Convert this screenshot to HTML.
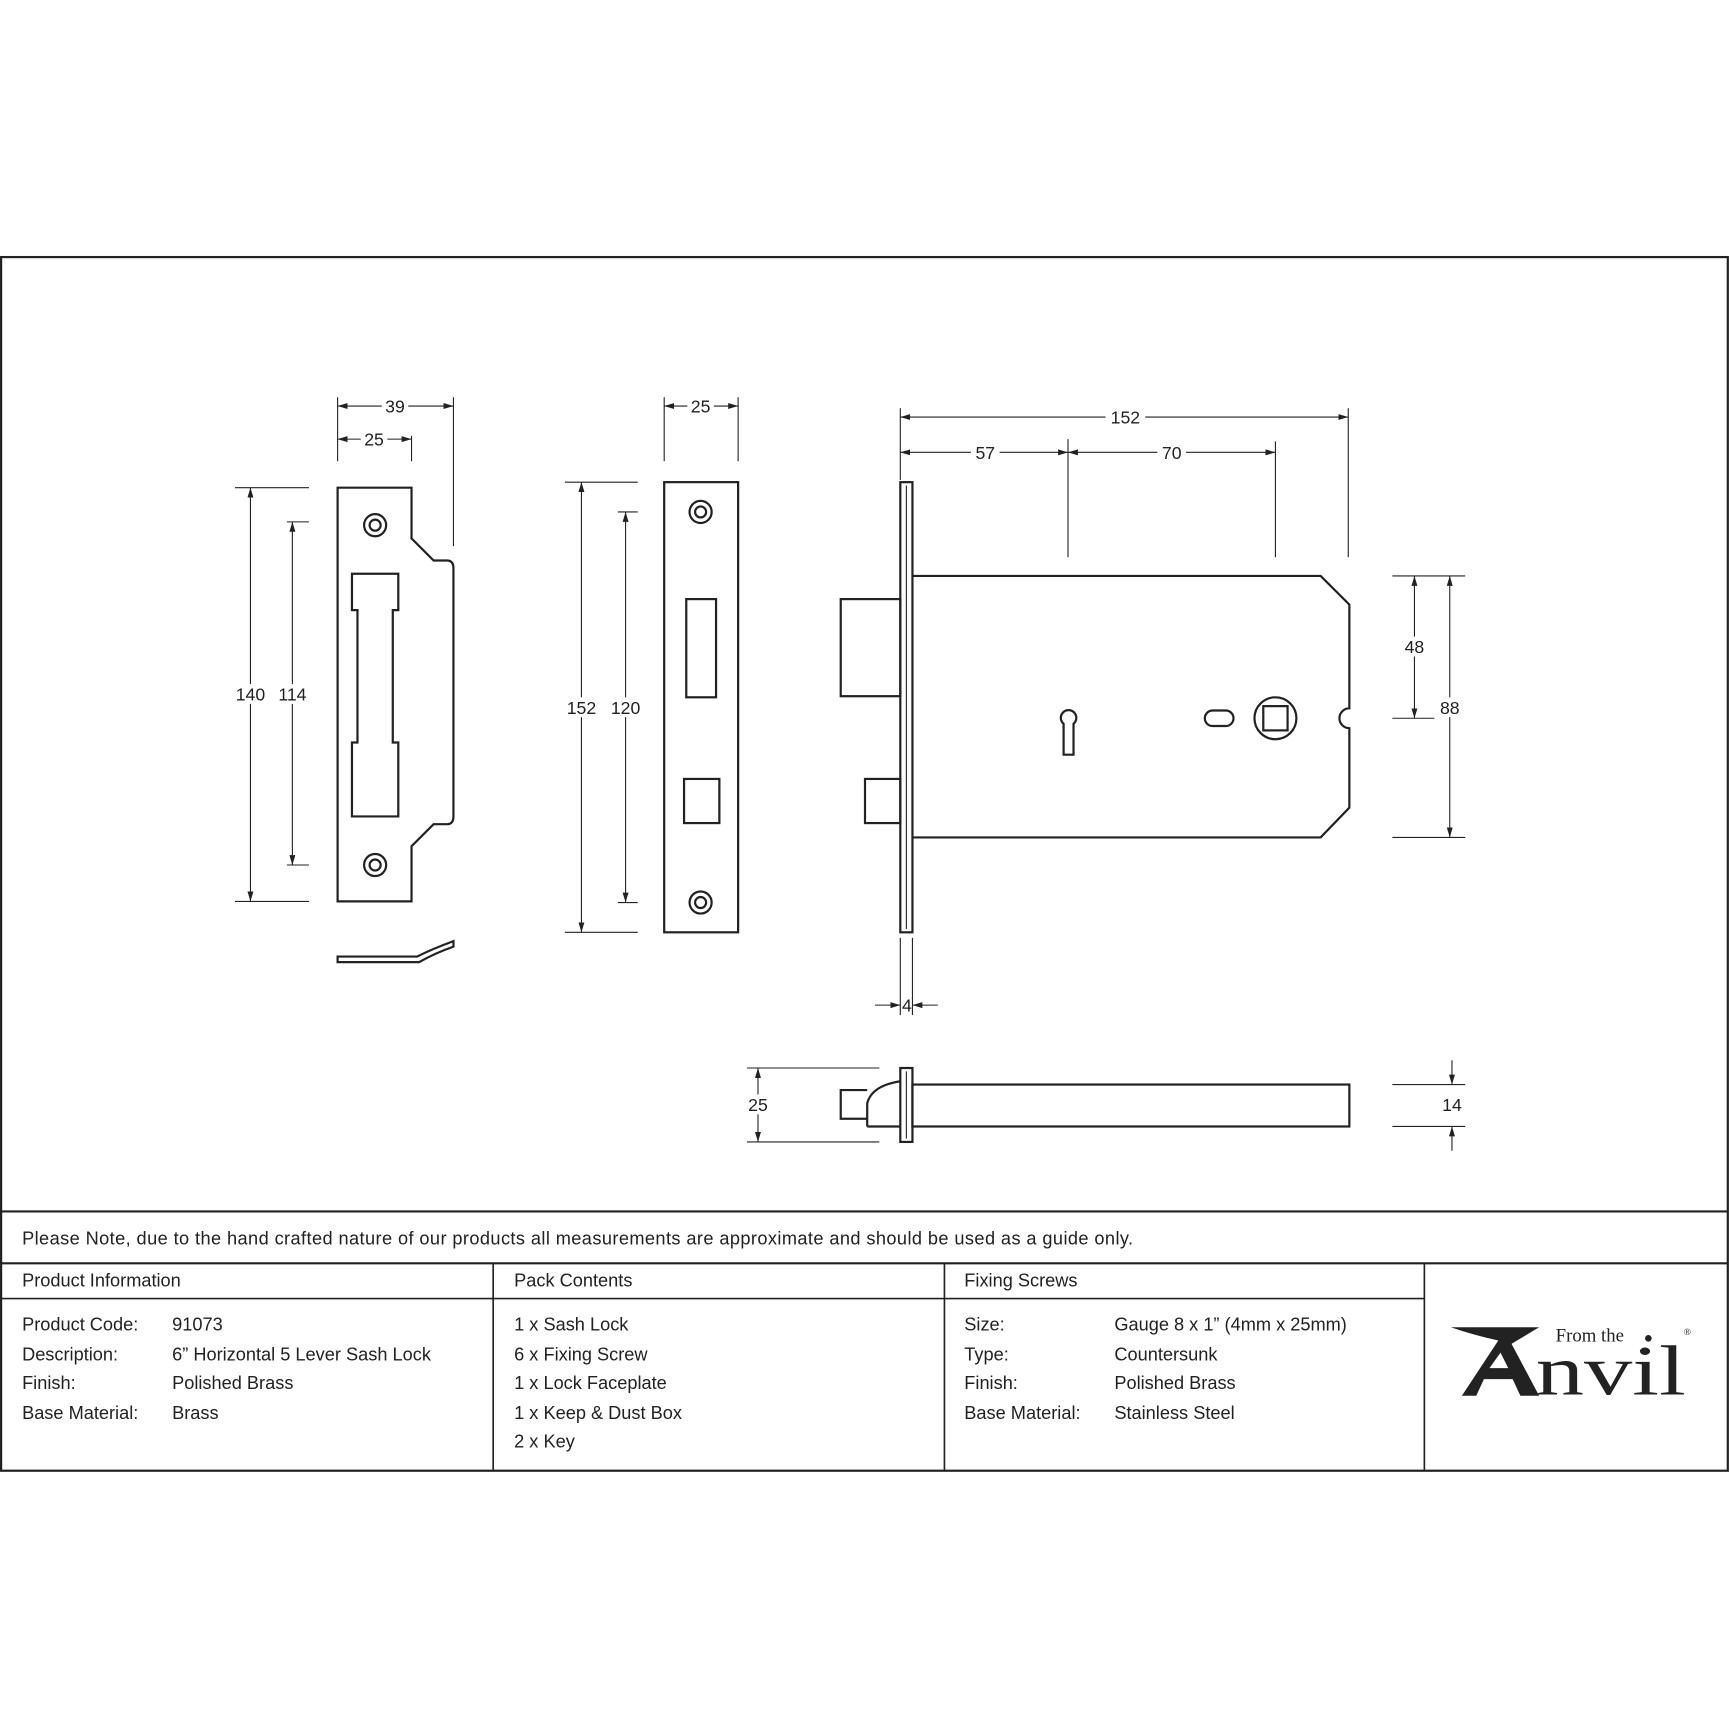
<!DOCTYPE html>
<html><head><meta charset="utf-8"><style>
html,body{margin:0;padding:0;background:#fff}
svg{display:block}
text{font-family:"Liberation Sans",sans-serif;fill:#222}
</style></head><body>
<svg width="1730" height="1730" viewBox="0 0 1568 1568" xmlns="http://www.w3.org/2000/svg">
<defs>
<marker id="a" viewBox="0 0 10 10" refX="10" refY="5" markerWidth="9" markerHeight="9" orient="auto-start-reverse" markerUnits="userSpaceOnUse"><path d="M0,2 L10,5 L0,8 z" fill="#222"/></marker>
</defs>
<g fill="none" stroke="#222" stroke-width="2">
<rect x="1" y="233" width="1565" height="1100"/>
<line x1="1" y1="1098" x2="1566" y2="1098"/>
<line x1="1" y1="1145" x2="1566" y2="1145"/>
</g>
<g fill="none" stroke="#222" stroke-width="1.5">
<line x1="1" y1="1177" x2="1291" y2="1177"/>
<line x1="447" y1="1145" x2="447" y2="1333"/>
<line x1="856" y1="1145" x2="856" y2="1333"/>
<line x1="1291" y1="1145" x2="1291" y2="1333"/>
</g>
<g fill="none" stroke="#222" stroke-width="2">
<path d="M306,442 H373 V488 L393,508 H405 Q411,508 411,515 V740 Q411,747 405,747 H393 L373,767 V817 H306 Z"/>
<path d="M319,520 H361 V553 H356 V673 H361 V740 H319 V673 H324 V553 H319 Z"/>
<circle cx="340" cy="476" r="10"/><circle cx="340" cy="476" r="5"/>
<circle cx="340" cy="784" r="10"/><circle cx="340" cy="784" r="5"/>
<path d="M306,867 H378 Q392,860 411,853 V858 Q394,864 380,872 H306 Z"/>
<rect x="602" y="437" width="67" height="408"/>
<circle cx="635" cy="464" r="10"/><circle cx="635" cy="464" r="5"/>
<circle cx="635" cy="818" r="10"/><circle cx="635" cy="818" r="5"/>
<rect x="622" y="543" width="27" height="89"/>
<rect x="620" y="706" width="32" height="40"/>
<rect x="816" y="437" width="11" height="408"/>
<line x1="821.5" y1="440" x2="821.5" y2="842" stroke-width="1"/>
<path d="M827,522 H1197 L1223,548 V642 A9,9 0 0 0 1223,660 V732 L1197,759 H827"/>
<rect x="762" y="543" width="54" height="88"/>
<rect x="784" y="706" width="32" height="40"/>
<path d="M964,656 A7,7 0 1 1 973,656 V684 H964 Z"/>
<rect x="1092" y="644" width="26" height="14" rx="7"/>
<circle cx="1156" cy="651" r="19"/>
<rect x="1145" y="640" width="22" height="22"/>
<rect x="816" y="968" width="11" height="67"/>
<line x1="821.5" y1="971" x2="821.5" y2="1032" stroke-width="1"/>
<rect x="827" y="983" width="396" height="38"/>
<path d="M786,988 H762 V1014 H786"/>
<path d="M786,1021 V1000 Q790,984 816,980 M786,1021 H816"/>
</g>
<g stroke="#222" stroke-width="1" fill="none">
<line x1="306" y1="360" x2="306" y2="418"/><line x1="411" y1="360" x2="411" y2="495"/>
<line x1="373" y1="395" x2="373" y2="418"/>
<line x1="213" y1="442" x2="280" y2="442"/><line x1="213" y1="817" x2="280" y2="817"/>
<line x1="260" y1="473" x2="280" y2="473"/><line x1="260" y1="784" x2="280" y2="784"/>
<line x1="602" y1="360" x2="602" y2="418"/><line x1="669" y1="360" x2="669" y2="418"/>
<line x1="512" y1="437" x2="578" y2="437"/><line x1="512" y1="845" x2="578" y2="845"/>
<line x1="560" y1="464" x2="578" y2="464"/><line x1="560" y1="818" x2="578" y2="818"/>
<line x1="816" y1="370" x2="816" y2="435"/><line x1="1222" y1="370" x2="1222" y2="505"/>
<line x1="968" y1="398" x2="968" y2="505"/><line x1="1156" y1="400" x2="1156" y2="505"/>
<line x1="1262" y1="522" x2="1328" y2="522"/><line x1="1262" y1="651" x2="1300" y2="651"/>
<line x1="1262" y1="759" x2="1328" y2="759"/>
<line x1="816" y1="850" x2="816" y2="920"/><line x1="827" y1="850" x2="827" y2="920"/>
<line x1="677" y1="968" x2="797" y2="968"/><line x1="677" y1="1035" x2="797" y2="1035"/>
<line x1="1262" y1="983" x2="1328" y2="983"/><line x1="1262" y1="1021" x2="1328" y2="1021"/>
<g marker-start="url(#a)" marker-end="url(#a)">
<line x1="306" y1="368" x2="411" y2="368"/>
<line x1="306" y1="398" x2="373" y2="398"/>
<line x1="227" y1="442" x2="227" y2="817"/>
<line x1="265" y1="473" x2="265" y2="784"/>
<line x1="602" y1="368" x2="669" y2="368"/>
<line x1="527" y1="437" x2="527" y2="845"/>
<line x1="567" y1="464" x2="567" y2="818"/>
<line x1="816" y1="378" x2="1222" y2="378"/>
<line x1="816" y1="410" x2="968" y2="410"/>
<line x1="968" y1="410" x2="1156" y2="410"/>
<line x1="1282" y1="522" x2="1282" y2="651"/>
<line x1="1314" y1="522" x2="1314" y2="759"/>
<line x1="687" y1="968" x2="687" y2="1035"/>
</g>
<g marker-end="url(#a)">
<line x1="793" y1="911" x2="816" y2="911"/>
<line x1="850" y1="911" x2="827" y2="911"/>
<line x1="1316" y1="961" x2="1316" y2="983"/>
<line x1="1316" y1="1043" x2="1316" y2="1021"/>
</g>
</g>
<g font-size="16" text-anchor="middle">
<rect x="346" y="360" width="24" height="16" fill="#fff"/><text x="358" y="374">39</text>
<rect x="327" y="390" width="24" height="16" fill="#fff"/><text x="339" y="404">25</text>
<rect x="210" y="620" width="34" height="18" fill="#fff"/><text x="227" y="635">140</text>
<rect x="248" y="620" width="34" height="18" fill="#fff"/><text x="265" y="635">114</text>
<rect x="623" y="360" width="24" height="16" fill="#fff"/><text x="635" y="374">25</text>
<rect x="510" y="632" width="34" height="18" fill="#fff"/><text x="527" y="647">152</text>
<rect x="550" y="632" width="34" height="18" fill="#fff"/><text x="567" y="647">120</text>
<rect x="1002" y="370" width="36" height="16" fill="#fff"/><text x="1020" y="384">152</text>
<rect x="880" y="402" width="26" height="16" fill="#fff"/><text x="893" y="416">57</text>
<rect x="1049" y="402" width="26" height="16" fill="#fff"/><text x="1062" y="416">70</text>
<rect x="1270" y="577" width="24" height="18" fill="#fff"/><text x="1282" y="592">48</text>
<rect x="1302" y="632" width="24" height="18" fill="#fff"/><text x="1314" y="647">88</text>
<text x="822" y="917">4</text>
<rect x="675" y="992" width="24" height="18" fill="#fff"/><text x="687" y="1007">25</text>
<text x="1316" y="1007">14</text>
</g>
<g font-size="16.5">
<text x="20" y="1128" textLength="1007" lengthAdjust="spacing">Please Note, due to the hand crafted nature of our products all measurements are approximate and should be used as a guide only.</text>
<text x="20" y="1166">Product Information</text>
<text x="466" y="1166">Pack Contents</text>
<text x="874" y="1166">Fixing Screws</text>
<text x="20" y="1206">Product Code:</text><text x="156" y="1206">91073</text>
<text x="20" y="1233">Description:</text><text x="156" y="1233">6” Horizontal 5 Lever Sash Lock</text>
<text x="20" y="1259">Finish:</text><text x="156" y="1259">Polished Brass</text>
<text x="20" y="1286">Base Material:</text><text x="156" y="1286">Brass</text>
<text x="466" y="1206">1 x Sash Lock</text>
<text x="466" y="1233">6 x Fixing Screw</text>
<text x="466" y="1259">1 x Lock Faceplate</text>
<text x="466" y="1286">1 x Keep &amp; Dust Box</text>
<text x="466" y="1312">2 x Key</text>
<text x="874" y="1206">Size:</text><text x="1010" y="1206">Gauge 8 x 1” (4mm x 25mm)</text>
<text x="874" y="1233">Type:</text><text x="1010" y="1233">Countersunk</text>
<text x="874" y="1259">Finish:</text><text x="1010" y="1259">Polished Brass</text>
<text x="874" y="1286">Base Material:</text><text x="1010" y="1286">Stainless Steel</text>
</g>
<text x="1410" y="1216" font-size="17" style="font-family:'Liberation Serif',serif">From the</text>
<circle cx="1494" cy="1213" r="3" fill="#222"/>
<path d="M1315,1203 H1395 Q1380,1212 1370,1218 L1395,1265 H1378 L1371,1250 H1345 L1338,1265 H1325 L1358,1215 Q1335,1210 1315,1203 Z M1350,1240 H1367 L1360,1226 Z" fill="#222"/>
<text x="1392" y="1264" font-size="64" textLength="136" lengthAdjust="spacingAndGlyphs" style="font-family:'Liberation Serif',serif">nvil</text>
<text x="1526" y="1210" font-size="9" style="font-family:'Liberation Serif',serif">®</text>
</svg>
</body></html>
